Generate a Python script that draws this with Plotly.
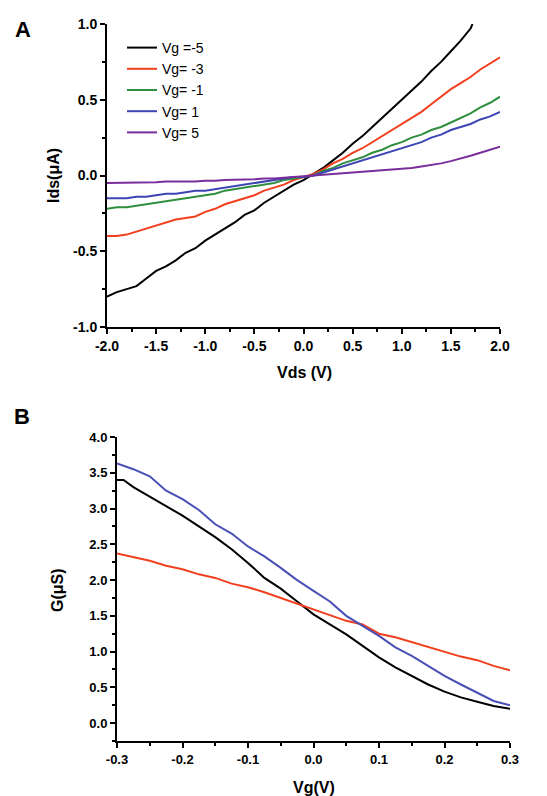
import plotly.graph_objects as go

# ---------------- Panel A data: Ids vs Vds ----------------
vds = [-2.0, -1.9, -1.8, -1.7, -1.6, -1.5, -1.4, -1.3, -1.2, -1.1, -1.0,
       -0.9, -0.8, -0.7, -0.6, -0.5, -0.4, -0.3, -0.2, -0.1, 0.0,
       0.1, 0.2, 0.3, 0.4, 0.5, 0.6, 0.7, 0.8, 0.9, 1.0,
       1.1, 1.2, 1.3, 1.4, 1.5, 1.6, 1.7, 1.8, 1.9, 2.0]

vds_black = vds[:38] + [1.72]
ids_vg_m5 = [-0.80, -0.77, -0.75, -0.73, -0.68, -0.63, -0.60, -0.56, -0.51, -0.48, -0.43,
             -0.39, -0.35, -0.31, -0.26, -0.23, -0.18, -0.14, -0.10, -0.06, -0.03,
             0.01, 0.05, 0.10, 0.15, 0.21, 0.26, 0.32, 0.38, 0.44, 0.50,
             0.56, 0.62, 0.69, 0.75, 0.82, 0.89, 0.97, 1.00]
ids_vg_m3 = [-0.40, -0.40, -0.39, -0.37, -0.35, -0.33, -0.31, -0.29, -0.28, -0.27, -0.24,
             -0.22, -0.19, -0.17, -0.15, -0.13, -0.10, -0.08, -0.06, -0.03, -0.01,
             0.01, 0.04, 0.08, 0.11, 0.15, 0.18, 0.22, 0.26, 0.30, 0.34,
             0.38, 0.42, 0.47, 0.52, 0.57, 0.61, 0.65, 0.70, 0.74, 0.78]
ids_vg_m1 = [-0.22, -0.21, -0.21, -0.20, -0.19, -0.18, -0.17, -0.16, -0.15, -0.14, -0.13,
             -0.12, -0.10, -0.09, -0.08, -0.07, -0.06, -0.05, -0.03, -0.02, -0.01,
             0.00, 0.03, 0.05, 0.08, 0.10, 0.12, 0.15, 0.17, 0.20, 0.22,
             0.25, 0.27, 0.30, 0.32, 0.35, 0.38, 0.41, 0.45, 0.48, 0.52]
ids_vg_p1 = [-0.15, -0.15, -0.15, -0.14, -0.14, -0.13, -0.12, -0.12, -0.11, -0.10, -0.10,
             -0.09, -0.08, -0.07, -0.06, -0.05, -0.04, -0.03, -0.02, -0.01, -0.01,
             0.00, 0.02, 0.04, 0.06, 0.08, 0.10, 0.12, 0.14, 0.16, 0.18,
             0.20, 0.22, 0.25, 0.27, 0.30, 0.32, 0.34, 0.37, 0.39, 0.42]
ids_vg_p5 = [-0.05, -0.05, -0.05, -0.05, -0.045, -0.045, -0.04, -0.04, -0.04, -0.04, -0.035,
             -0.035, -0.03, -0.03, -0.025, -0.025, -0.02, -0.02, -0.015, -0.01, -0.005,
             0.0, 0.005, 0.01, 0.015, 0.02, 0.025, 0.03, 0.035, 0.04, 0.045,
             0.05, 0.06, 0.07, 0.08, 0.095, 0.11, 0.13, 0.15, 0.17, 0.19]

names_a = ["Vg =-5", "Vg= -3", "Vg= -1", "Vg= 1", "Vg= 5"]
colors_a = ["#000000", "#f2401e", "#2f8f3f", "#3d45b5", "#7a2e9c"]

# ---------------- Panel B data: G vs Vg ----------------
vg = [-0.300, -0.290, -0.275, -0.250, -0.225, -0.200, -0.175, -0.150, -0.125, -0.100,
      -0.075, -0.050, -0.025, 0.000, 0.025, 0.050, 0.075, 0.100, 0.125, 0.150,
      0.175, 0.200, 0.225, 0.250, 0.275, 0.300]
g_black = [3.40, 3.40, 3.30, 3.17, 3.03, 2.90, 2.75, 2.60, 2.43, 2.24,
           2.03, 1.88, 1.70, 1.52, 1.38, 1.24, 1.08, 0.92, 0.78, 0.66,
           0.54, 0.44, 0.36, 0.30, 0.24, 0.20]
g_red = [2.37, 2.35, 2.32, 2.27, 2.20, 2.15, 2.08, 2.03, 1.95, 1.90,
         1.83, 1.75, 1.67, 1.58, 1.50, 1.43, 1.38, 1.25, 1.20, 1.13,
         1.06, 1.00, 0.93, 0.88, 0.80, 0.74]
g_blue = [3.63, 3.60, 3.55, 3.45, 3.25, 3.13, 2.98, 2.78, 2.65, 2.47,
          2.33, 2.17, 2.00, 1.85, 1.70, 1.50, 1.36, 1.22, 1.06, 0.94,
          0.80, 0.66, 0.54, 0.42, 0.31, 0.25]
colors_b = ["#000000", "#f0401e", "#4a4fb5"]

# ---------------- Tick labels ----------------
xa_vals = [-2.0, -1.5, -1.0, -0.5, 0.0, 0.5, 1.0, 1.5, 2.0]
xa_text = ["-2.0", "-1.5", "-1.0", "-0.5", "0.0", "0.5", "1.0", "1.5", "2.0"]
ya_vals = [-1.0, -0.5, 0.0, 0.5, 1.0]
ya_text = ["-1.0", "-0.5", "0.0", "0.5", "1.0"]
xb_vals = [-0.3, -0.2, -0.1, 0.0, 0.1, 0.2, 0.3]
xb_text = ["-0.3", "-0.2", "-0.1", "0.0", "0.1", "0.2", "0.3"]
yb_vals = [0.0, 0.5, 1.0, 1.5, 2.0, 2.5, 3.0, 3.5, 4.0]
yb_text = ["0.0", "0.5", "1.0", "1.5", "2.0", "2.5", "3.0", "3.5", "4.0"]

W, H = 547, 796
FONT = "Liberation Sans, Arial, sans-serif"

fig = go.Figure()

series_a = [ids_vg_m5, ids_vg_m3, ids_vg_m1, ids_vg_p1, ids_vg_p5]
for i, ys in enumerate(series_a):
    xs = vds_black if i == 0 else vds
    fig.add_trace(go.Scatter(x=xs, y=ys, mode="lines", name=names_a[i],
                             line=dict(color=colors_a[i], width=2),
                             xaxis="x", yaxis="y"))

for ys, c in zip([g_black, g_red, g_blue], colors_b):
    fig.add_trace(go.Scatter(x=vg, y=ys, mode="lines", showlegend=False,
                             line=dict(color=c, width=2),
                             xaxis="x2", yaxis="y2"))

tickfont_a = dict(family=FONT, size=14, color="black", weight="bold")
tickfont_b = dict(family=FONT, size=13, color="black", weight="bold")

def axis(domain, rng, vals, text, dtick_minor, anchor, tf):
    return dict(domain=domain, range=rng, anchor=anchor, automargin=False,
                showline=True, linewidth=2, linecolor="black",
                showgrid=False, zeroline=False,
                ticks="outside", ticklen=5, tickwidth=2, tickcolor="black",
                tickmode="array", tickvals=vals, ticktext=text,
                tickfont=tf,
                minor=dict(ticks="outside", ticklen=3, tickwidth=2,
                           tickcolor="black", dtick=dtick_minor, showgrid=False))

fig.update_layout(
    width=W, height=H,
    margin=dict(l=0, r=0, t=0, b=0, pad=0),
    paper_bgcolor="white", plot_bgcolor="white",
    font=dict(family=FONT, color="black"),
    xaxis=axis([107 / W, 500 / W], [-2, 2], xa_vals, xa_text, 0.25, "y", tickfont_a),
    yaxis=axis([1 - 327 / H, 1 - 24 / H], [-1, 1], ya_vals, ya_text, 0.25, "x", tickfont_a),
    xaxis2=axis([117 / W, 510 / W], [-0.3, 0.3], xb_vals, xb_text, 0.05, "y2", tickfont_b),
    yaxis2=axis([1 - 741 / H, 1 - 437 / H], [-0.25, 4.0], yb_vals, yb_text, 0.25, "x2", tickfont_b),
    legend=dict(x=122 / W, y=1 - 32 / H, xanchor="left", yanchor="top",
                bgcolor="rgba(0,0,0,0)", borderwidth=0,
                font=dict(family=FONT, size=14, color="black")),
    showlegend=True,
)

def label(text, x, y, size, angle=0):
    fig.add_annotation(text=text, x=x / W, y=1 - y / H, xref="paper", yref="paper",
                       showarrow=False, textangle=angle,
                       font=dict(family=FONT, size=size, color="black", weight="bold"),
                       xanchor="center", yanchor="middle")

label("A", 23, 30, 22)
label("B", 22, 416, 22)
label("Vds (V)", 305, 372, 16)
label("Vg(V)", 314, 787, 16)
label("Ids(μA)", 53, 176, 16, -90)
label("G(μS)", 57, 590, 16, -90)

fig.write_html("out.html",
               config={"displayModeBar": False},
               post_script="document.body.style.margin='0';document.body.style.padding='0';"
                           "document.documentElement.style.overflow='hidden';")
